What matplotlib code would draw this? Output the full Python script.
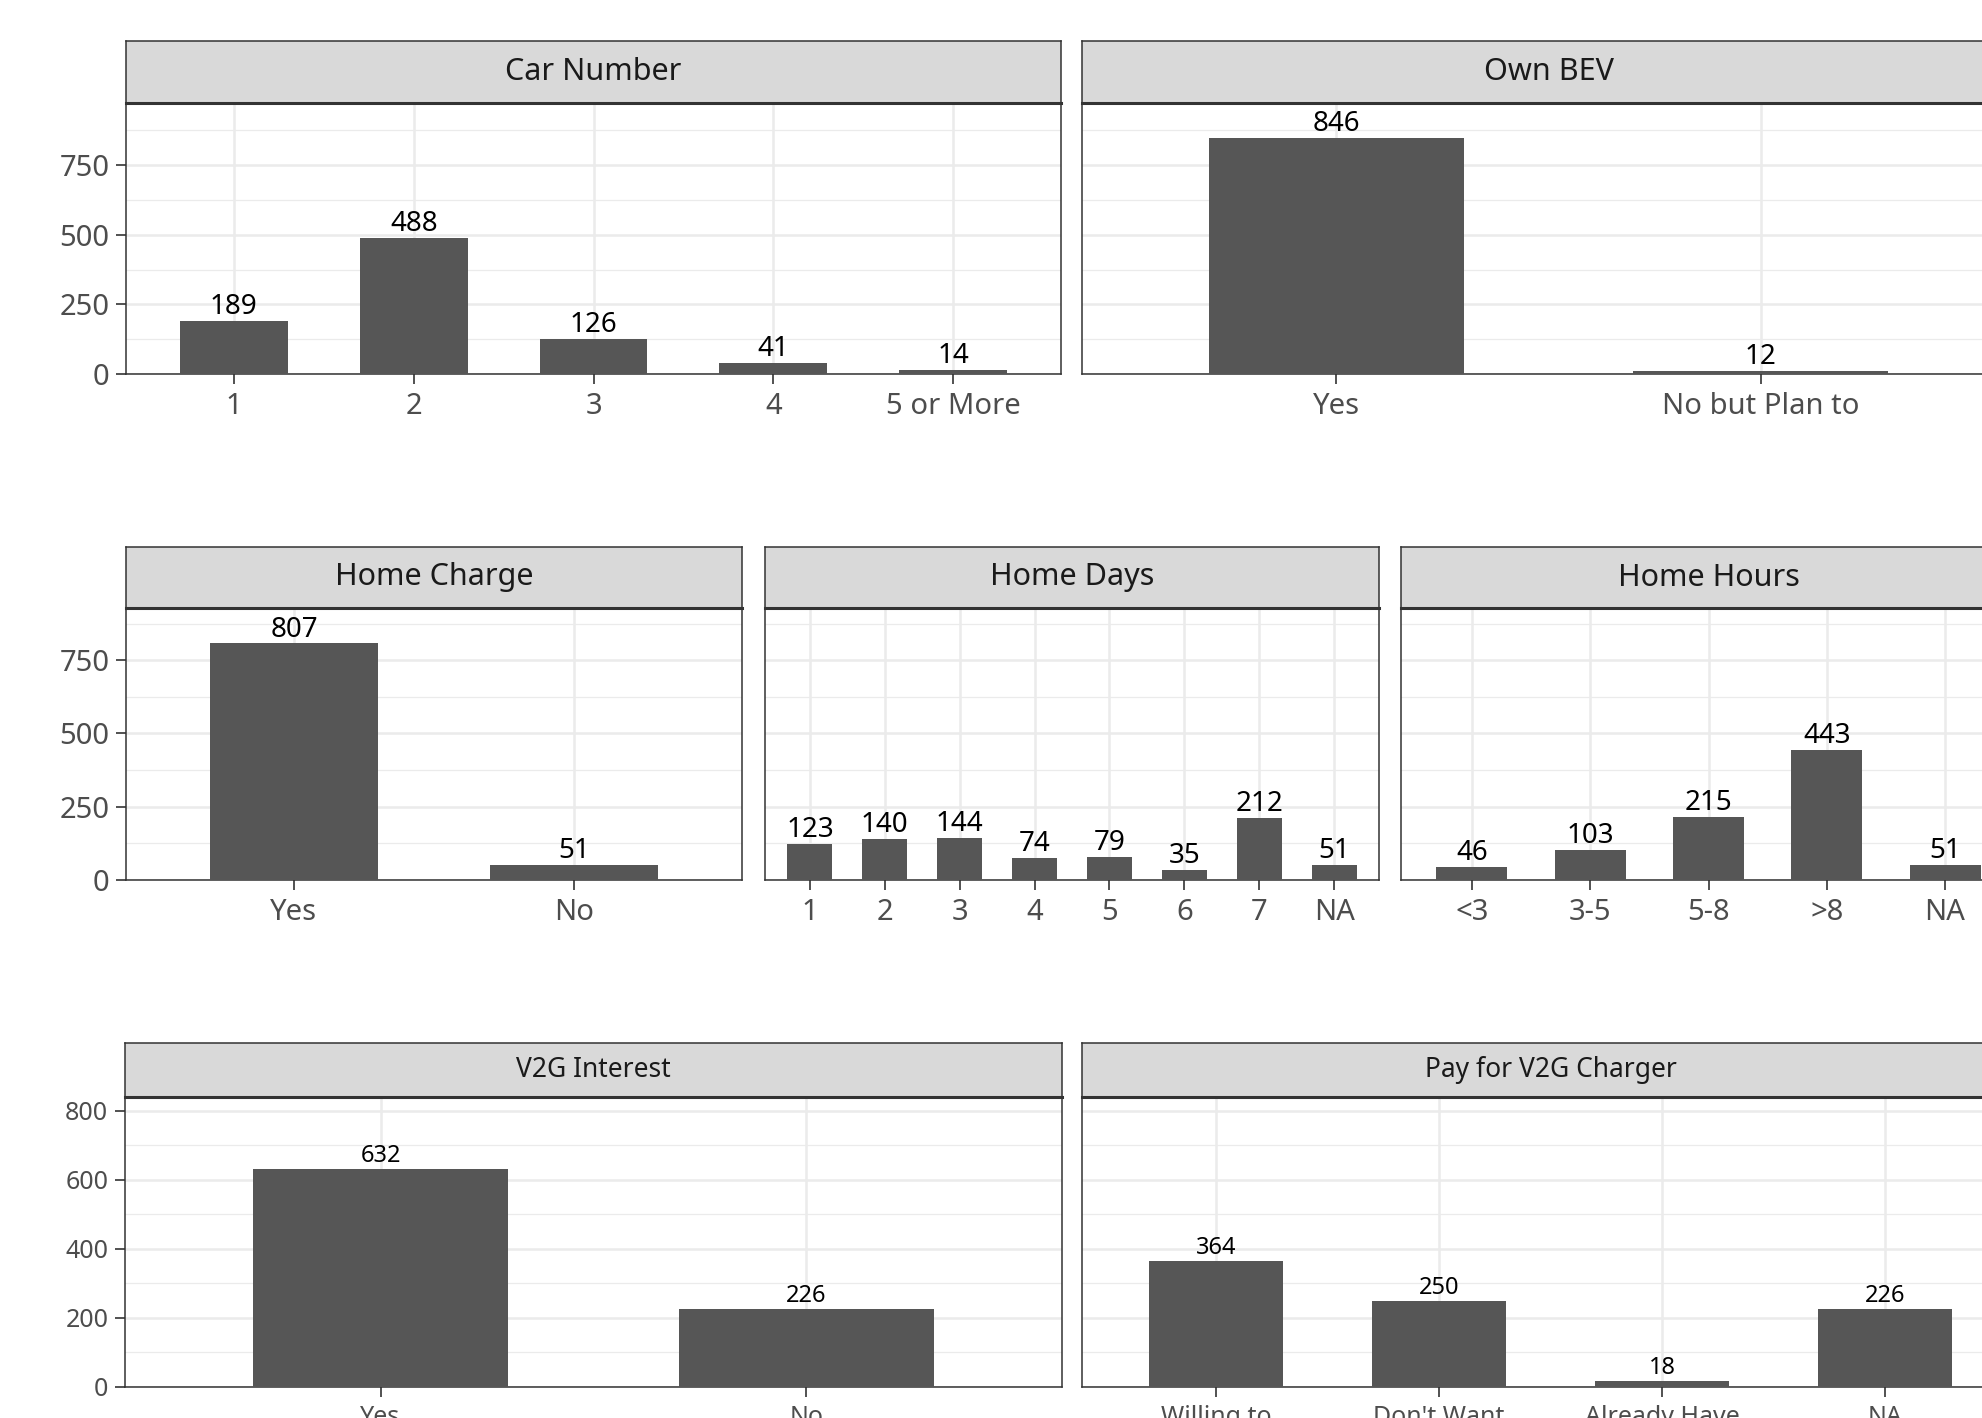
import matplotlib.pyplot as plt
from matplotlib.ticker import MultipleLocator

plt.rcParams['font.family'] = ['Noto Sans', 'DejaVu Sans']

# survey counts per question
car_number_cats = ['1', '2', '3', '4', '5 or More']
car_number_counts = [189, 488, 126, 41, 14]

own_bev_cats = ['Yes', 'No but Plan to']
own_bev_counts = [846, 12]

home_charge_cats = ['Yes', 'No']
home_charge_counts = [807, 51]

home_days_cats = ['1', '2', '3', '4', '5', '6', '7', 'NA']
home_days_counts = [123, 140, 144, 74, 79, 35, 212, 51]

home_hours_cats = ['<3', '3-5', '5-8', '>8', 'NA']
home_hours_counts = [46, 103, 215, 443, 51]

v2g_interest_cats = ['Yes', 'No']
v2g_interest_counts = [632, 226]

pay_v2g_cats = ['Willing to', "Don't Want", 'Already Have', 'NA']
pay_v2g_counts = [364, 250, 18, 226]

W, H = 1982, 1418
DPI = 100
fig = plt.figure(figsize=(W / DPI, H / DPI), dpi=DPI)
fig.patch.set_facecolor('white')

BAR = '#565656'
GRID = '#EBEBEB'
DARK = '#333333'
TICKTXT = '#4D4D4D'


def px_rect(x0, y0, x1, y1):
    # pixel box (top-left origin) -> figure fraction
    return [x0 / W, 1 - y1 / H, (x1 - x0) / W, (y1 - y0) / H]


def facet(x0, x1, strip_top, strip_bot, bottom, title, cats, counts,
          ymax, major, show_y, fs):
    ax = fig.add_axes(px_rect(x0, strip_bot, x1, bottom))
    n = len(cats)
    x = list(range(n))
    ax.bar(x, counts, width=0.6, color=BAR, zorder=3)
    for xi, v in zip(x, counts):
        ax.annotate(str(v), (xi, v), xytext=(0, 5), textcoords='offset points',
                    ha='center', va='baseline', fontsize=fs, color='black',
                    zorder=4)
    ax.set_xlim(-0.6, n - 1 + 0.6)
    ax.set_ylim(0, ymax)
    ax.set_xticks(x)
    ax.set_xticklabels(cats)
    ax.yaxis.set_major_locator(MultipleLocator(major))
    ax.yaxis.set_minor_locator(MultipleLocator(major / 2))
    ax.grid(True, which='major', color=GRID, lw=1.8, zorder=0)
    ax.grid(True, which='minor', axis='y', color=GRID, lw=0.9, zorder=0)
    ax.set_axisbelow(True)
    ax.tick_params(axis='x', length=7, width=1.2, color=DARK, pad=6,
                   labelsize=fs + 1, labelcolor=TICKTXT)
    ax.tick_params(axis='y', which='minor', length=0)
    if show_y:
        ax.tick_params(axis='y', which='major', length=7, width=1.2, color=DARK,
                       pad=5, labelsize=fs + 1, labelcolor=TICKTXT)
    else:
        ax.tick_params(axis='y', which='major', length=0, labelleft=False)
    for s in ax.spines.values():
        s.set_color(DARK)
        s.set_linewidth(1.1)

    st = fig.add_axes(px_rect(x0, strip_top, x1, strip_bot))
    st.set_facecolor('#D9D9D9')
    st.set_xticks([])
    st.set_yticks([])
    for s in st.spines.values():
        s.set_color(DARK)
        s.set_linewidth(1.1)
    st.spines['bottom'].set_linewidth(2.2)
    st.text(0.5, 0.5, title, transform=st.transAxes, ha='center',
            va='center', fontsize=fs + 2, color='#1A1A1A')
    return ax


# row 1: shared y scale
ymax1 = max(car_number_counts + own_bev_counts) * 1.15
facet(126, 1061, 41, 103, 374, 'Car Number', car_number_cats,
      car_number_counts, ymax1, 250, True, 20)
facet(1082, 2015, 41, 103, 374, 'Own BEV', own_bev_cats,
      own_bev_counts, ymax1, 250, False, 20)

# row 2
ymax2 = max(home_charge_counts + home_days_counts + home_hours_counts) * 1.15
facet(126, 742, 547, 608, 880, 'Home Charge', home_charge_cats,
      home_charge_counts, ymax2, 250, True, 20)
facet(765, 1379, 547, 608, 880, 'Home Days', home_days_cats,
      home_days_counts, ymax2, 250, False, 20)
facet(1401, 2016, 547, 608, 880, 'Home Hours', home_hours_cats,
      home_hours_counts, ymax2, 250, False, 20)

# row 3: fixed 0-800 scale
facet(125, 1062, 1043, 1097, 1387, 'V2G Interest', v2g_interest_cats,
      v2g_interest_counts, 840, 200, True, 17)
facet(1082, 2019, 1043, 1097, 1387, 'Pay for V2G Charger', pay_v2g_cats,
      pay_v2g_counts, 840, 200, False, 17)

fig.savefig('out.png', dpi=DPI)
